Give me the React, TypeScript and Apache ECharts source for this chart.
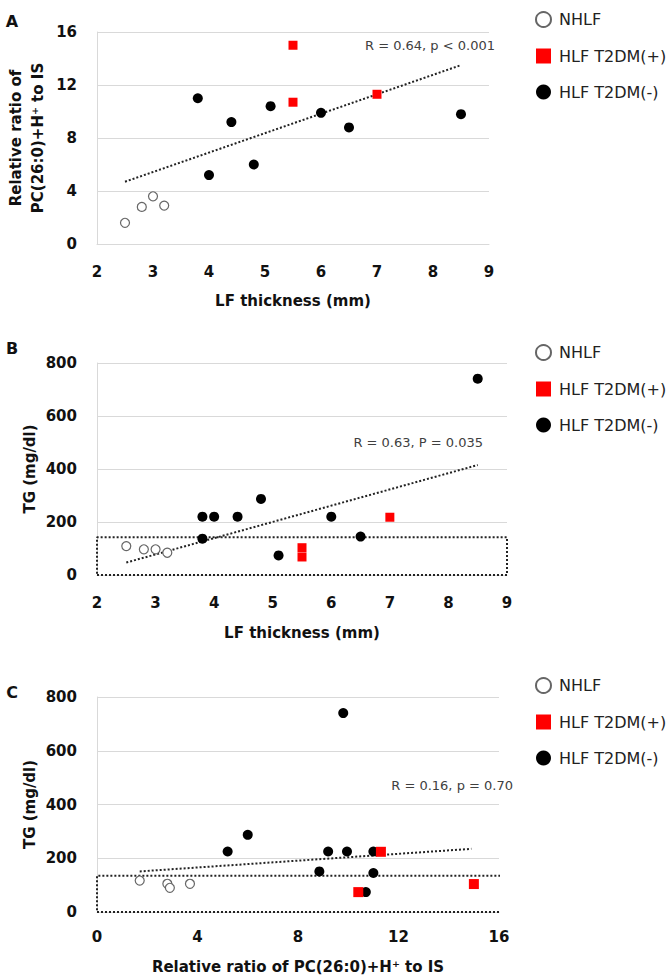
import React, { useEffect, useRef } from "react";
import * as echarts from "echarts";

// ---------- data ----------
const LEGEND_NAMES = ["NHLF", "HLF T2DM(+)", "HLF T2DM(-)"];

// Panel A: LF thickness (mm) vs relative ratio of PC(26:0)+H+ to IS
const A_NHLF = [[2.5, 1.6], [2.8, 2.8], [3.0, 3.6], [3.2, 2.9]];
const A_POS = [[5.5, 15.0], [5.5, 10.7], [7.0, 11.3]];
const A_NEG = [[3.8, 11.0], [4.0, 5.2], [4.4, 9.2], [4.8, 6.0], [5.1, 10.4], [6.0, 9.9], [6.5, 8.8], [8.5, 9.8]];
const A_TREND = [[2.5, 4.7], [8.5, 13.5]];
const A_STAT = "R = 0.64, p < 0.001";

// Panel B: LF thickness (mm) vs TG (mg/dl)
const B_NHLF = [[2.5, 109], [2.8, 97], [3.0, 97], [3.2, 84]];
const B_POS = [[5.5, 103], [5.5, 68], [7.0, 218]];
const B_NEG = [[3.8, 220], [3.8, 137], [4.0, 220], [4.4, 220], [4.8, 287], [5.1, 74], [6.0, 220], [6.5, 145], [8.5, 741]];
const B_TREND = [[2.5, 47], [8.5, 415]];
const B_BOX = [[2, 0], [9, 0], [9, 142], [2, 142], [2, 0]];
const B_STAT = "R = 0.63, P = 0.035";

// Panel C: relative ratio vs TG (mg/dl)
const C_NHLF = [[1.7, 117], [2.8, 105], [2.9, 90], [3.7, 105]];
const C_POS = [[11.3, 224], [10.4, 74], [15.0, 104]];
const C_NEG = [[5.2, 225], [6.0, 287], [8.85, 151], [9.2, 225], [9.8, 740], [9.95, 225], [11.0, 225], [11.0, 145], [10.7, 74]];
const C_TREND = [[1.7, 151], [14.9, 235]];
const C_BOX = [[0, 0], [16.3, 0], [16.3, 135], [0, 135], [0, 0]];
const C_STAT = "R = 0.16, p = 0.70";

// axes
const X_LF = { min: 2, max: 9, interval: 1 };
const X_RATIO = { min: 0, max: 16, interval: 4 };
const Y_RATIO = { min: 0, max: 16, interval: 4 };
const Y_TG = { min: 0, max: 800, interval: 200 };

const X_TITLE_LF = "LF thickness (mm)";
const X_TITLE_RATIO = "Relative ratio of PC(26:0)+H\u207A to IS";
const Y_TITLE_RATIO = "Relative ratio of\nPC(26:0)+H\u207A to IS";
const Y_TITLE_TG = "TG (mg/dl)";

const FONT = "'DejaVu Sans', sans-serif";
const GRID_COLOR = "#d9d9d9";

function buildOption() {
  const grids = [
    { left: 97, top: 32, width: 392, height: 212, outerBoundsMode: "none", containLabel: false },
    { left: 97, top: 363, width: 410, height: 212, outerBoundsMode: "none", containLabel: false },
    { left: 97, top: 697, width: 402, height: 215, outerBoundsMode: "none", containLabel: false },
  ];

  const xCfg = [X_LF, X_LF, X_RATIO];
  const xNames = [X_TITLE_LF, X_TITLE_LF, X_TITLE_RATIO];
  const xLabelMargins = [20, 20, 17];
  const xNameGaps = [49, 50, 47];
  const yCfg = [Y_RATIO, Y_TG, Y_TG];
  const yNames = [Y_TITLE_RATIO, Y_TITLE_TG, Y_TITLE_TG];
  const yNameGaps = [48, 56, 56];

  const xAxis = grids.map((_, i) => ({
    type: "value",
    gridIndex: i,
    ...xCfg[i],
    name: xNames[i],
    nameLocation: "middle",
    nameGap: xNameGaps[i],
    nameMoveOverlap: false,
    nameTextStyle: { fontFamily: FONT, fontSize: 15, fontWeight: "bold", color: "#111" },
    axisLine: { show: true, lineStyle: { color: GRID_COLOR, width: 1 } },
    axisTick: { show: false },
    splitLine: { show: false },
    axisLabel: { fontFamily: FONT, fontSize: 15, fontWeight: "bold", color: "#111", margin: xLabelMargins[i] },
  }));

  const yAxis = grids.map((_, i) => ({
    type: "value",
    gridIndex: i,
    ...yCfg[i],
    name: yNames[i],
    nameLocation: "middle",
    nameRotate: 90,
    nameGap: yNameGaps[i],
    nameMoveOverlap: false,
    nameTextStyle: { fontFamily: FONT, fontSize: 15, fontWeight: "bold", color: "#111", lineHeight: 22 },
    axisLine: { show: true, lineStyle: { color: GRID_COLOR, width: 1 } },
    axisTick: { show: false },
    splitLine: { show: true, lineStyle: { color: GRID_COLOR, width: 1 } },
    axisLabel: { fontFamily: FONT, fontSize: 15, fontWeight: "bold", color: "#111", margin: 20 },
  }));

  const panels = [
    { nhlf: A_NHLF, pos: A_POS, neg: A_NEG, trend: A_TREND, box: null, sq: 9 },
    { nhlf: B_NHLF, pos: B_POS, neg: B_NEG, trend: B_TREND, box: B_BOX, sq: 9 },
    { nhlf: C_NHLF, pos: C_POS, neg: C_NEG, trend: C_TREND, box: C_BOX, sq: 10 },
  ];

  const series: any[] = [];
  panels.forEach((p, i) => {
    if (p.box) {
      series.push({
        type: "line",
        name: "box" + i,
        xAxisIndex: i,
        yAxisIndex: i,
        data: p.box,
        symbol: "none",
        clip: false,
        silent: true,
        z: 1,
        lineStyle: { color: "#222", width: 2, type: [2, 2] },
      });
    }
    series.push({
      type: "line",
      name: "trend" + i,
      xAxisIndex: i,
      yAxisIndex: i,
      data: p.trend,
      symbol: "none",
      silent: true,
      z: 2,
      lineStyle: { color: "#222", width: 2, type: [2, 2] },
    });
    series.push({
      type: "scatter",
      name: LEGEND_NAMES[0],
      xAxisIndex: i,
      yAxisIndex: i,
      data: p.nhlf,
      symbol: "circle",
      symbolSize: 9,
      z: 3,
      itemStyle: { color: "#ffffff", borderColor: "#666", borderWidth: 1.2, opacity: 1 },
    });
    series.push({
      type: "scatter",
      name: LEGEND_NAMES[2],
      xAxisIndex: i,
      yAxisIndex: i,
      data: p.neg,
      symbol: "circle",
      symbolSize: 10,
      z: 3,
      itemStyle: { color: "#000000", opacity: 1 },
    });
    series.push({
      type: "scatter",
      name: LEGEND_NAMES[1],
      xAxisIndex: i,
      yAxisIndex: i,
      data: p.pos,
      symbol: "rect",
      symbolSize: p.sq,
      z: 4,
      itemStyle: { color: "#ff0000", opacity: 1 },
    });
  });

  const legendTops = [6, 339, 672];
  const legend = legendTops.map((top) => ({
    orient: "vertical",
    left: 530,
    top,
    itemWidth: 15,
    itemHeight: 15,
    itemGap: 20,
    selectedMode: false,
    data: [
      { name: LEGEND_NAMES[0], icon: "circle" },
      { name: LEGEND_NAMES[1], icon: "rect" },
      { name: LEGEND_NAMES[2], icon: "circle" },
    ],
    textStyle: { fontFamily: FONT, fontSize: 16, color: "#222", padding: [0, 0, 0, 3] },
  }));

  const letters = [
    { t: "A", y: 21 },
    { t: "B", y: 348 },
    { t: "C", y: 692 },
  ];
  const stats = [
    { t: A_STAT, x: 495, y: 45 },
    { t: B_STAT, x: 483, y: 442 },
    { t: C_STAT, x: 513, y: 785 },
  ];

  const graphic: any[] = [
    ...letters.map((l) => ({
      type: "text",
      x: 12,
      y: l.y,
      style: {
        text: l.t,
        fontFamily: FONT,
        fontSize: 16,
        fontWeight: "bold",
        fill: "#111",
        align: "center",
        verticalAlign: "middle",
      },
    })),
    ...stats.map((s) => ({
      type: "text",
      x: s.x,
      y: s.y,
      style: {
        text: s.t,
        fontFamily: FONT,
        fontSize: 13,
        fill: "#404040",
        align: "right",
        verticalAlign: "middle",
      },
    })),
  ];

  return {
    animation: false,
    backgroundColor: "#ffffff",
    grid: grids,
    xAxis,
    yAxis,
    legend,
    series,
    graphic,
  };
}

export default function App() {
  const ref = useRef<HTMLDivElement>(null);
  useEffect(() => {
    if (!ref.current) return;
    const chart = echarts.init(ref.current, undefined, { renderer: "svg" });
    chart.setOption(buildOption() as any);
    return () => chart.dispose();
  }, []);
  return (
    <div
      ref={ref}
      style={{ position: "absolute", left: 0, top: 0, width: 668, height: 980, background: "#fff" }}
    />
  );
}
